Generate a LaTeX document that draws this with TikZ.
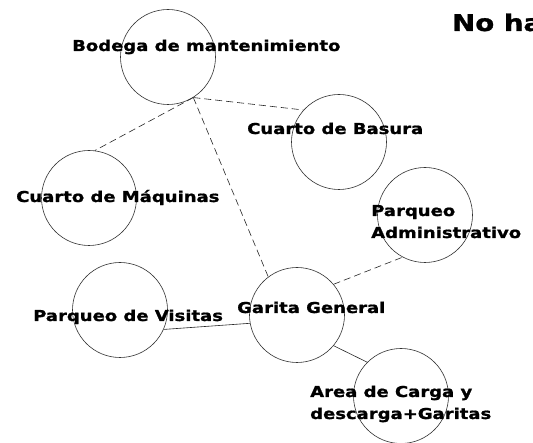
\documentclass[tikz,border=0pt]{standalone}
\usepackage{fontspec}
\newfontfamily\lab{DejaVu Sans}[FakeStretch=1.2,FakeBold=1.2]
\begin{document}
\begin{tikzpicture}[x=1pt,y=-1pt,
  place/.style={draw=black!80,line width=0.6pt,circle,minimum size=95pt,inner sep=0pt},
  lbl/.style={anchor=base west,inner sep=0pt,font=\lab\bfseries\fontsize{15pt}{22pt}\selectfont},
  dashlink/.style={draw=black!85,line width=0.6pt,dash pattern=on 7pt off 4pt},
  solidlink/.style={draw=black!85,line width=0.6pt}]
\clip (0,0) rectangle (533,443);
\fill[white] (0,0) rectangle (533,443);
% circles
\node[place] (bod) at (168,57) {};
\node[place] (bas) at (339,142) {};
\node[place] (maq) at (89,198) {};
\node[place] (adm) at (425,215) {};
\node[place] (vis) at (120,310) {};
\node[place] (gar) at (297,315) {};
\node[place] (car) at (401,396) {};
% labels
\node[lbl] (tbod) at (72,51) {Bodega de mantenimiento};
\node[lbl] (tbas) at (247,134) {Cuarto de Basura};
\node[lbl] (tmaq) at (16,202) {Cuarto de Máquinas};
\node[lbl] (tadm) at (371,216) {\begin{tabular}[t]{@{}l@{}}Parqueo\\Administrativo\end{tabular}};
\node[lbl] (tvis) at (33,321) {Parqueo de Visitas};
\node[lbl] (tgar) at (237,313) {Garita General};
\node[lbl] (tcar) at (310,397) {\begin{tabular}[t]{@{}l@{}}Area de Carga y\\descarga+Garitas\end{tabular}};
\node[anchor=base west,inner sep=0pt,font=\lab\bfseries\fontsize{23pt}{27pt}\selectfont] (title) at (452,31) {No ha};
% connectors
\draw[dashlink] (bod.-58) -- (maq.83);
\draw[dashlink] (bod.-58) -- (bas.138);
\draw[dashlink] (bod.-58) -- (gar.127);
\draw[dashlink] (gar.40) -- (adm.242);
\draw[solidlink] (vis.-24) -- (gar.190);
\draw[solidlink] (gar.-40) -- (car.135);
\end{tikzpicture}
\end{document}
